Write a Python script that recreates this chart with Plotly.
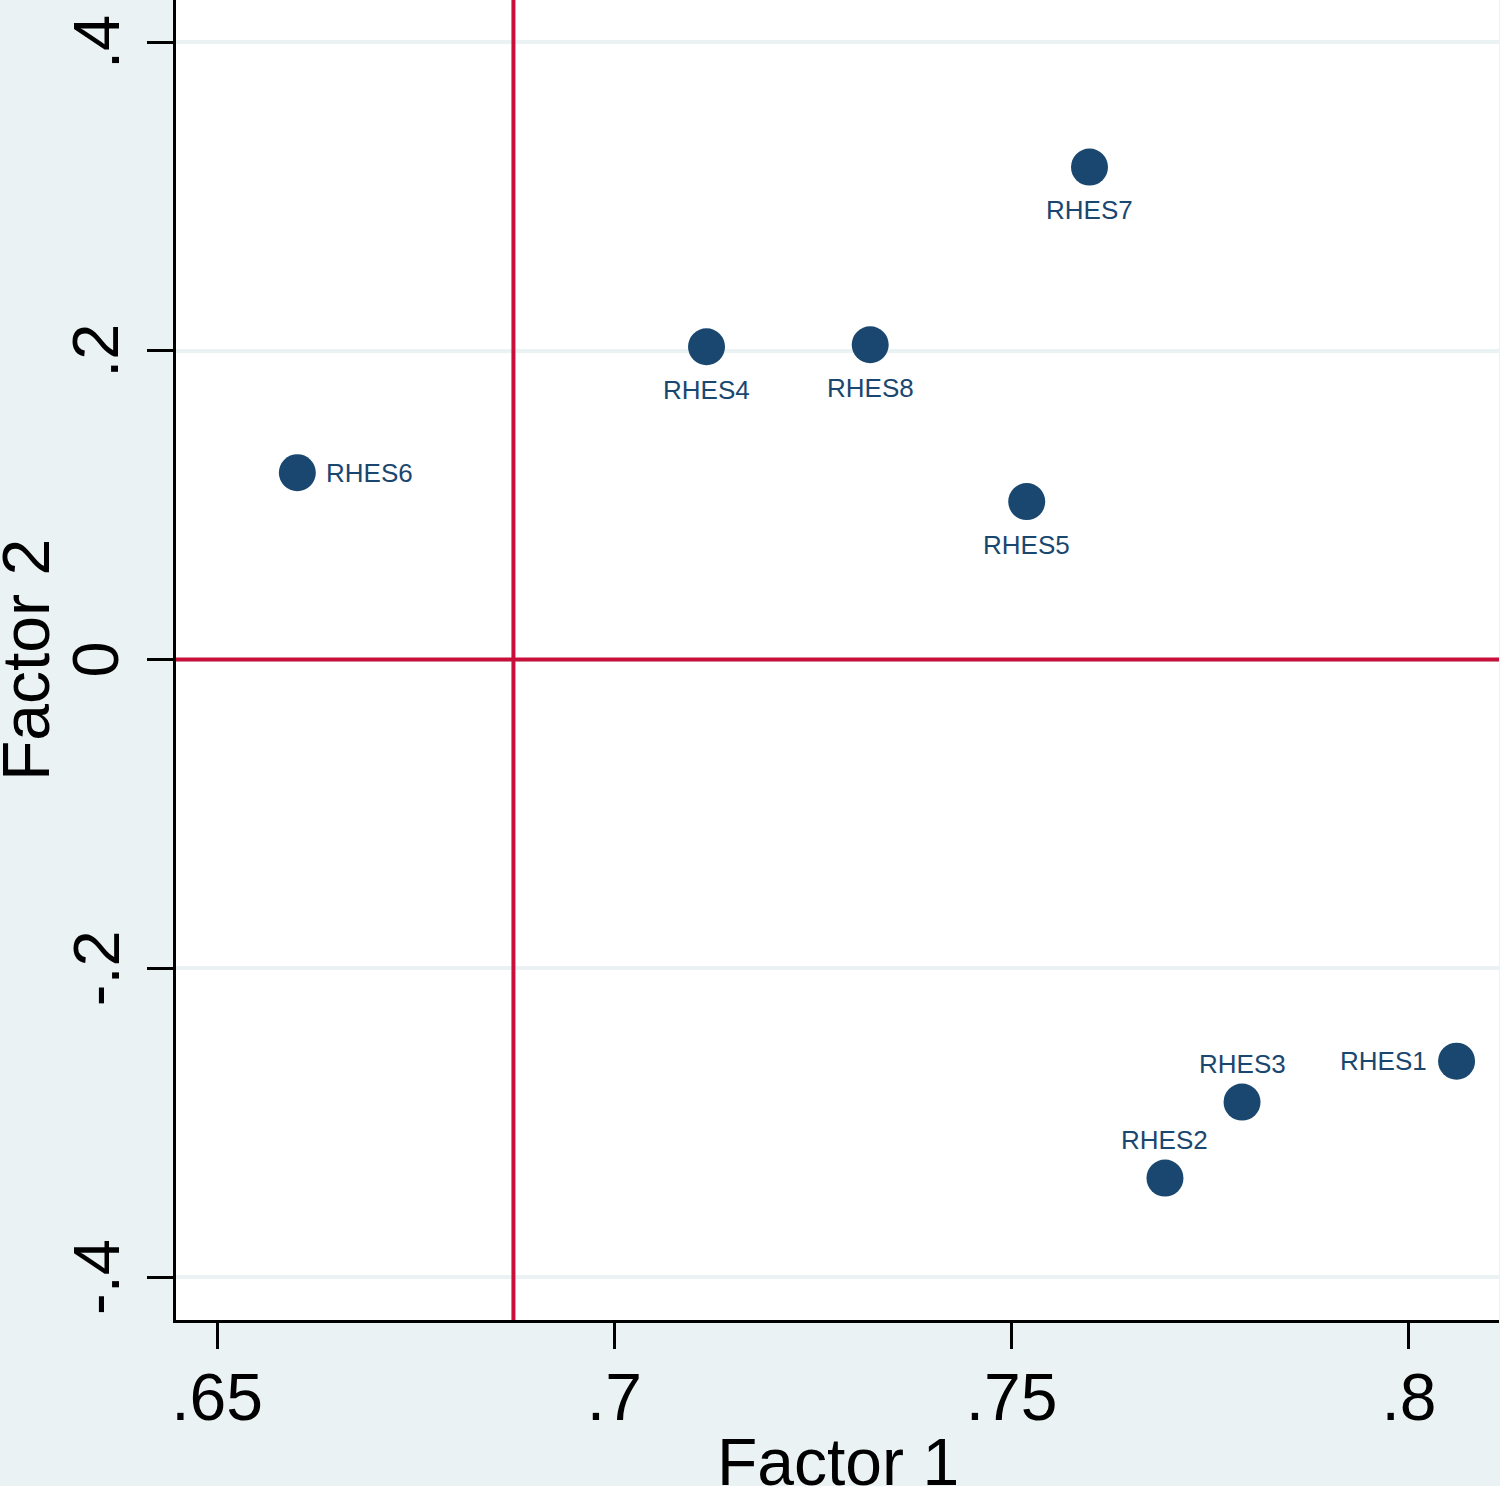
import plotly.graph_objects as go

# Data
labels = ["RHES1", "RHES2", "RHES3", "RHES4", "RHES5", "RHES6", "RHES7", "RHES8"]
factor1 = [0.8060, 0.7693, 0.7790, 0.7116, 0.7519, 0.6601, 0.7598, 0.7322]
factor2 = [-0.2602, -0.3359, -0.2867, 0.2026, 0.1023, 0.1210, 0.3190, 0.2039]
label_pos = ["left", "top", "top", "bottom", "bottom", "right", "bottom", "bottom"]

x_ticks = [0.65, 0.7, 0.75, 0.8]
x_ticklabels = [".65", ".7", ".75", ".8"]
y_ticks = [-0.4, -0.2, 0, 0.2, 0.4]
y_ticklabels = ["-.4", "-.2", "0", ".2", ".4"]

x_ref_line = 0.6873
y_ref_line = 0.0

NAVY = "#1A476F"
RED = "#C8103A"
BG = "#EAF2F3"
FONT = "Liberation Sans, Arial, sans-serif"

fig = go.Figure()
fig.add_trace(go.Scatter(
    x=factor1, y=factor2, mode="markers",
    marker=dict(size=37, color=NAVY, line=dict(width=0)),
    showlegend=False, cliponaxis=False, hoverinfo="text", text=labels,
))

# point labels
shift = {"left": (-28, 0, "right"), "right": (27, 0, "left"),
         "top": (0, 38, "center"), "bottom": (0, -43, "center")}
for xv, yv, lab, pos in zip(factor1, factor2, labels, label_pos):
    dx, dy, xa = shift[pos]
    fig.add_annotation(x=xv, y=yv, xref="x", yref="y", text=lab, showarrow=False,
                       xanchor=xa, yanchor="middle", xshift=dx, yshift=dy,
                       font=dict(family=FONT, size=26, color=NAVY))

# reference lines
fig.add_shape(type="line", xref="x", yref="paper", x0=x_ref_line, x1=x_ref_line, y0=0, y1=1,
              line=dict(color=RED, width=4), layer="above")
fig.add_shape(type="line", xref="paper", yref="y", x0=0, x1=1, y0=y_ref_line, y1=y_ref_line,
              line=dict(color=RED, width=4), layer="above")

# y tick labels (rotated, Stata style)
for yv, yt in zip(y_ticks, y_ticklabels):
    fig.add_annotation(x=0, y=yv, xref="paper", yref="y", text=yt, showarrow=False,
                       textangle=-90, xanchor="center", yanchor="middle", xshift=-80,
                       font=dict(family=FONT, size=65, color="black"))

# axis titles
fig.add_annotation(x=0.5, y=0, xref="paper", yref="paper", text="Factor 1", showarrow=False,
                   xanchor="center", yanchor="middle", yshift=-142,
                   font=dict(family=FONT, size=66, color="black"))
fig.add_annotation(x=0, y=0.5, xref="paper", yref="paper", text="Factor 2", showarrow=False,
                   textangle=-90, xanchor="center", yanchor="middle", xshift=-150,
                   font=dict(family=FONT, size=66, color="black"))

fig.update_layout(
    width=1500, height=1486,
    margin=dict(l=176, r=1, t=0, b=166, pad=0),
    paper_bgcolor=BG, plot_bgcolor="white",
    font=dict(family=FONT, color="black"),
    xaxis=dict(
        range=[0.64483, 0.81134], tickvals=x_ticks, ticktext=x_ticklabels,
        showgrid=False, zeroline=False, showline=True, linecolor="black", linewidth=3,
        ticks="outside", ticklen=26, tickwidth=3, tickcolor="black",
        tickfont=dict(family=FONT, size=66), ticklabelstandoff=-8,
        automargin=False,
    ),
    yaxis=dict(
        range=[-0.42785, 0.42721], tickvals=y_ticks, showticklabels=False,
        showgrid=True, gridcolor=BG, gridwidth=4, zeroline=False,
        showline=True, linecolor="black", linewidth=3,
        ticks="outside", ticklen=26, tickwidth=3, tickcolor="black",
        automargin=False,
    ),
)

fig.write_html("out.html", config={"displayModeBar": False},
               post_script="document.body.style.margin='0';document.body.style.padding='0';document.body.style.overflow='hidden';")
